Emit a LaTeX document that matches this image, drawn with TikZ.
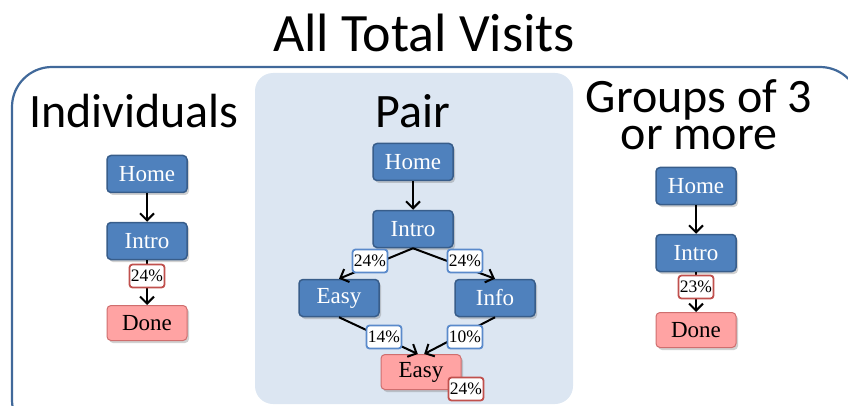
\documentclass[tikz,border=0pt]{standalone}
\usepackage{fontspec}
\setmainfont{Liberation Serif}
\newfontfamily\headfont{Carlito}
\usetikzlibrary{arrows.meta,shadows}
\definecolor{nodeblue}{HTML}{4F81BD}
\definecolor{nodeborder}{HTML}{385D8A}
\definecolor{pinkfill}{HTML}{FFA3A3}
\definecolor{pinkborder}{HTML}{CF6E6E}
\definecolor{labred}{HTML}{C0504D}
\definecolor{labblue}{HTML}{5A8ACB}
\definecolor{panelblue}{HTML}{DCE6F2}
\definecolor{frameblue}{HTML}{41699A}
\begin{document}
\begin{tikzpicture}[x=1pt,y=-1pt,
  shadowed/.style={drop shadow={shadow xshift=2pt,shadow yshift=-2.5pt,opacity=0.3,fill=black!60}},
  bluebox/.style={shadowed,draw=nodeborder,fill=nodeblue,line width=1.5pt,rounded corners=4pt,
    minimum width=80pt,minimum height=37pt,text=white,font=\fontsize{23}{26}\selectfont},
  pinkbox/.style={shadowed,draw=pinkborder,fill=pinkfill,line width=1pt,rounded corners=4pt,
    minimum width=80pt,minimum height=35pt,text=black,font=\fontsize{23}{26}\selectfont},
  pct/.style={fill=white,line width=1.8pt,rounded corners=3pt,inner sep=1pt,
    minimum width=35pt,minimum height=23pt,font=\fontsize{17.5}{19}\selectfont},
  redpct/.style={pct,draw=labred},
  bluepct/.style={pct,draw=labblue},
  flow/.style={-{Straight Barb[length=7pt,width=14pt]},line width=2pt},
  heading/.style={font=\headfont\fontsize{48}{37}\selectfont,inner sep=0pt,anchor=base}
]
\useasboundingbox (0,0) rectangle (848,406);
\clip (0,0) rectangle (848,406);

% frames
\draw[frameblue,line width=2.2pt,rounded corners=40pt] (12,67) rectangle (860,440);
\fill[panelblue,rounded corners=18pt] (255,73) rectangle (573,404);

% headings
\node[heading,font=\headfont\fontsize{54}{60}\selectfont] (title) at (424,52) {All Total Visits};
\node[heading] (hind) at (134,128) {Individuals};
\node[heading] (hpair) at (413,128) {Pair};
\node[heading,align=center] (hgrp) at (699,150) {Groups of 3\\or more};

% Individuals
\node[bluebox] (ihome) at (147,174) {Home};
\node[bluebox] (iintro) at (147,241) {Intro};
\node[pinkbox] (idone) at (147,323) {Done};
\draw[flow] (ihome) -- (iintro);
\draw[flow] (iintro) -- (idone);
\node[redpct] (ip) at (147,276) {24\%};

% Pair
\node[bluebox] (phome) at (413,162) {Home};
\node[bluebox] (pintro) at (413,229) {Intro};
\node[bluebox] (peasy) at (339,298) {Easy};
\node[bluebox] (pinfo) at (495,298) {Info};
\node[pinkbox] (pend) at (421,372) {Easy};
\draw[flow] (phome) -- (pintro);
\draw[flow] (pintro.south) -- (peasy.north);
\draw[flow] (pintro.south) -- (pinfo.north);
\draw[flow] (peasy.south) -- (pend.100);
\draw[flow] (pinfo.south) -- (pend.80);
\node[bluepct] (pl1) at (370,261) {24\%};
\node[bluepct] (pl2) at (465,261) {24\%};
\node[bluepct] (pl3) at (384,337) {14\%};
\node[bluepct] (pl4) at (465,337) {10\%};
\node[redpct] (pl5) at (466,389) {24\%};

% Groups
\node[bluebox] (ghome) at (696,186) {Home};
\node[bluebox] (gintro) at (696,253) {Intro};
\node[pinkbox] (gdone) at (696,330) {Done};
\draw[flow] (ghome) -- (gintro);
\draw[flow] (gintro) -- (gdone);
\node[redpct] (gp) at (696,287) {23\%};
\end{tikzpicture}
\end{document}
